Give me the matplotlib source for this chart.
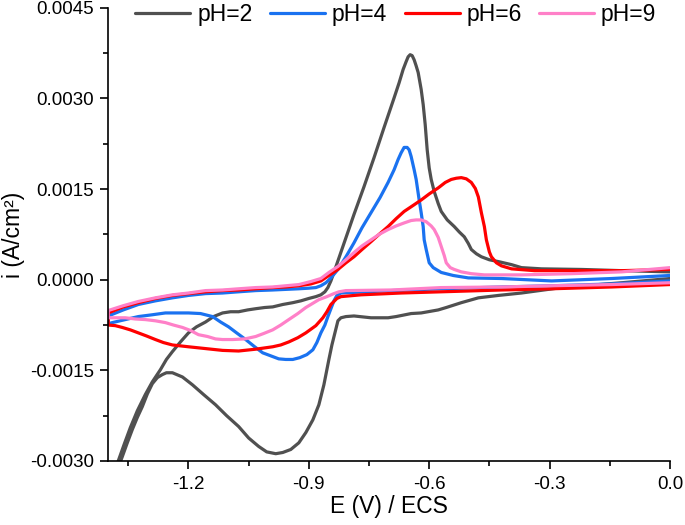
"""
Cyclic voltammograms at four pH values (current density vs potential).
Each curve is one loop: cathodic sweep 0.0 -> -1.4 V, then the return sweep.
"""

import matplotlib
matplotlib.use("Agg")
import matplotlib.pyplot as plt
from matplotlib.ticker import FixedLocator

plt.rcParams["font.family"] = ["Liberation Sans", "DejaVu Sans"]
plt.rcParams["axes.unicode_minus"] = False


# ----------------------------------------------------------------------
# Data (E in V vs ECS, i in A/cm2)
# ----------------------------------------------------------------------

labels = ["pH=2", "pH=4", "pH=6", "pH=9"]
colors = ["#505050", "#1a72f0", "#ff0000", "#ff80c8"]

# pH = 2 : cathodic sweep then return sweep
e_ph2 = [0.0, -0.12, -0.27, -0.37, -0.4275, -0.4775, -0.52, -0.5575, -0.5775,
         -0.62, -0.645, -0.6825, -0.7025, -0.745, -0.7875, -0.8075, -0.82,
         -0.8275, -0.835, -0.8425, -0.85, -0.8625, -0.875, -0.89, -0.9075,
         -0.925, -0.945, -0.965, -0.9825, -1.005, -1.025, -1.05, -1.075,
         -1.105, -1.1325, -1.1625, -1.19, -1.215, -1.24, -1.255, -1.265,
         -1.2775, -1.29, -1.3025, -1.315, -1.3275, -1.34, -1.3525, -1.365,
         -1.3825, -1.40,
         -1.40, -1.3875, -1.375, -1.36, -1.345, -1.3275, -1.3075, -1.29, -1.27,
         -1.255, -1.24, -1.22, -1.20, -1.18, -1.1575, -1.1375, -1.115, -1.095,
         -1.075, -1.0525, -1.0325, -1.01, -0.99, -0.965, -0.94, -0.92, -0.90,
         -0.8825, -0.87, -0.86, -0.8525, -0.845, -0.8375, -0.8125, -0.7875,
         -0.7625, -0.7375, -0.7125, -0.6875, -0.675, -0.665, -0.6575, -0.6525,
         -0.6475, -0.6425, -0.6375, -0.6325, -0.6275, -0.62, -0.615, -0.61,
         -0.605, -0.60, -0.595, -0.5875, -0.5775, -0.57, -0.555, -0.5375,
         -0.525, -0.5125, -0.5025, -0.495, -0.4825, -0.47, -0.45, -0.4275,
         -0.395, -0.37, -0.32, -0.22, -0.12, 0.0]
i_ph2 = [0.00002, -0.00005, -0.00013, -0.00022, -0.00026, -0.00030, -0.00038,
         -0.00046, -0.00050, -0.00055, -0.00056, -0.00061, -0.00063, -0.00063,
         -0.00060, -0.00061, -0.00063, -0.00068, -0.00088, -0.00108, -0.00132,
         -0.00174, -0.00207, -0.00232, -0.00253, -0.00270, -0.00281, -0.00286,
         -0.00288, -0.00285, -0.00276, -0.00262, -0.00243, -0.00225, -0.00207,
         -0.00190, -0.00174, -0.00161, -0.00154, -0.00154, -0.00157, -0.00162,
         -0.00172, -0.00189, -0.00210, -0.00228, -0.00248, -0.00270, -0.00293,
         -0.00324, -0.00356,
         -0.00348, -0.00324, -0.00300, -0.00272, -0.00245, -0.00217, -0.00190,
         -0.00169, -0.00149, -0.00132, -0.00119, -0.00103, -0.00088, -0.00078,
         -0.00070, -0.00061, -0.00055, -0.00053, -0.00053, -0.00050, -0.00048,
         -0.00046, -0.00045, -0.00041, -0.00038, -0.00035, -0.00031, -0.00028,
         -0.00025, -0.00020, -0.00013, -0.00002, 0.00012, 0.00060, 0.00108,
         0.00154, 0.00202, 0.00252, 0.00301, 0.00326, 0.00348, 0.00361,
         0.00369, 0.003725, 0.00371, 0.00364, 0.00354, 0.00343, 0.00315,
         0.00290, 0.00257, 0.00215, 0.00185, 0.00166, 0.00146, 0.00126,
         0.00113, 0.00099, 0.00088, 0.00079, 0.00071, 0.00060, 0.00050,
         0.00043, 0.00038, 0.00033, 0.00030, 0.00025, 0.00020, 0.00018,
         0.00017, 0.00015, 0.00013]

# pH = 4
e_ph4 = [0.0, -0.145, -0.295, -0.42, -0.57, -0.695, -0.82, -0.83, -0.8375,
         -0.845, -0.8525, -0.86, -0.87, -0.88, -0.89, -0.905, -0.9225, -0.94,
         -0.9575, -0.975, -0.995, -1.015, -1.035, -1.0575, -1.08, -1.10,
         -1.12, -1.14, -1.17, -1.20, -1.23, -1.2575, -1.29, -1.325, -1.3575,
         -1.39, -1.40,
         -1.40, -1.3625, -1.325, -1.2825, -1.24, -1.20, -1.1575, -1.115,
         -1.075, -1.0325, -0.99, -0.9575, -0.925, -0.90, -0.8825, -0.87,
         -0.8575, -0.845, -0.8275, -0.8075, -0.7875, -0.7675, -0.745, -0.7225,
         -0.7025, -0.6875, -0.6775, -0.67, -0.6625, -0.655, -0.65, -0.645,
         -0.6375, -0.6325, -0.625, -0.62, -0.615, -0.6125, -0.6075, -0.60,
         -0.59, -0.57, -0.54, -0.5025, -0.42, -0.295, -0.145, 0.0]
i_ph4 = [-0.00002, -0.00007, -0.00010, -0.00012, -0.00015, -0.00018, -0.00022,
         -0.00026, -0.00035, -0.00048, -0.00061, -0.00075, -0.00088, -0.00104,
         -0.00116, -0.00124, -0.00129, -0.00132, -0.00132, -0.00131, -0.00126,
         -0.00121, -0.00111, -0.00099, -0.00088, -0.00078, -0.00070, -0.00061,
         -0.00056, -0.00055, -0.00055, -0.00055, -0.00058, -0.00061, -0.00066,
         -0.00071, -0.00073,
         -0.00060, -0.00050, -0.00041, -0.00035, -0.00030, -0.00026, -0.00023,
         -0.00022, -0.00020, -0.00018, -0.00017, -0.00016, -0.00015, -0.00014,
         -0.00013, -0.00010, -0.00005, 0.00003, 0.00017, 0.00038, 0.00061,
         0.00086, 0.00111, 0.00136, 0.00161, 0.00182, 0.00199, 0.00210,
         0.00219, 0.00219, 0.00215, 0.00204, 0.00182, 0.00166, 0.00132,
         0.00111, 0.00088, 0.00066, 0.00050, 0.00028, 0.00020, 0.00012,
         0.00007, 0.00003, 0.00002, -0.00002, 0.00002, 0.00007]

# pH = 6
e_ph6 = [0.0, -0.145, -0.295, -0.42, -0.57, -0.67, -0.77, -0.82, -0.83,
         -0.8375, -0.845, -0.855, -0.865, -0.8825, -0.9075, -0.9275, -0.95,
         -0.97, -0.99, -1.0325, -1.075, -1.115, -1.1575, -1.20, -1.24,
         -1.2625, -1.2825, -1.305, -1.325, -1.345, -1.365, -1.3825, -1.40,
         -1.40, -1.3625, -1.325, -1.2825, -1.24, -1.20, -1.1575, -1.115,
         -1.075, -1.0325, -0.99, -0.9575, -0.925, -0.895, -0.87, -0.85,
         -0.8275, -0.8075, -0.7875, -0.7675, -0.745, -0.725, -0.7025, -0.6825,
         -0.6625, -0.64, -0.62, -0.60, -0.5775, -0.56, -0.545, -0.5325, -0.52,
         -0.5075, -0.495, -0.485, -0.4775, -0.47, -0.4625, -0.4575, -0.45,
         -0.445, -0.4325, -0.42, -0.395, -0.3375, -0.245, -0.12, 0.0]
i_ph6 = [-0.00008, -0.00012, -0.00015, -0.00017, -0.00020, -0.00022, -0.00025,
         -0.00028, -0.00031, -0.00036, -0.00041, -0.00053, -0.00063, -0.00076,
         -0.00088, -0.00096, -0.00103, -0.00108, -0.00111, -0.00115, -0.00118,
         -0.00117, -0.00114, -0.00111, -0.00108, -0.00104, -0.00099, -0.00093,
         -0.00088, -0.00083, -0.00079, -0.00076, -0.00075,
         -0.00055, -0.00045, -0.00038, -0.00031, -0.00026, -0.00023, -0.00020,
         -0.00018, -0.00017, -0.00015, -0.00013, -0.00012, -0.00010, -0.00007,
         -0.00002, 0.00007, 0.00017, 0.00028, 0.00038, 0.00050, 0.00063,
         0.00075, 0.00088, 0.00101, 0.00113, 0.00123, 0.00132, 0.00142,
         0.00152, 0.00161, 0.00166, 0.00168, 0.00169, 0.00167, 0.00161,
         0.00151, 0.00137, 0.00111, 0.00088, 0.00066, 0.00046, 0.00038,
         0.00028, 0.00023, 0.00018, 0.00015, 0.00015, 0.00015, 0.00017]

# pH = 9
e_ph9 = [0.0, -0.145, -0.295, -0.42, -0.57, -0.695, -0.8075, -0.825, -0.8375,
         -0.855, -0.875, -0.8925, -0.9075, -0.9275, -0.95, -0.97, -0.99,
         -1.0125, -1.0325, -1.06, -1.09, -1.115, -1.1325, -1.1525, -1.175,
         -1.195, -1.215, -1.2375, -1.2575, -1.2825, -1.3075, -1.3325, -1.3575,
         -1.40,
         -1.40, -1.3625, -1.325, -1.2825, -1.24, -1.20, -1.1575, -1.115,
         -1.075, -1.0325, -0.99, -0.9575, -0.925, -0.895, -0.87, -0.85,
         -0.8275, -0.8075, -0.7875, -0.7675, -0.745, -0.725, -0.7025, -0.6825,
         -0.6625, -0.645, -0.6325, -0.62, -0.6075, -0.595, -0.5875, -0.5775,
         -0.57, -0.5625, -0.5575, -0.5475, -0.5375, -0.52, -0.495, -0.4625,
         -0.37, -0.245, -0.12, 0.0]
i_ph9 = [-0.00005, -0.00008, -0.00010, -0.00012, -0.00013, -0.00017, -0.00018,
         -0.00020, -0.00023, -0.00028, -0.00033, -0.00040, -0.00046, -0.00056,
         -0.00066, -0.00075, -0.00083, -0.00089, -0.00094, -0.00098, -0.00099,
         -0.00099, -0.00098, -0.00094, -0.00091, -0.00084, -0.00079, -0.00075,
         -0.00071, -0.00068, -0.00066, -0.00065, -0.00063, -0.00063,
         -0.00051, -0.00043, -0.00036, -0.00030, -0.00025, -0.00022, -0.00018,
         -0.00017, -0.00015, -0.00013, -0.00012, -0.00010, -0.00008, -0.00003,
         0.00002, 0.00012, 0.00022, 0.00033, 0.00045, 0.00056, 0.00066,
         0.00075, 0.00083, 0.00089, 0.00094, 0.00098, 0.00099, 0.00099,
         0.00096, 0.00089, 0.00083, 0.00070, 0.00055, 0.00040, 0.00028,
         0.00020, 0.00017, 0.00013, 0.00010, 0.00008, 0.00008, 0.00010,
         0.00013, 0.00020]

x_ticks = [-1.2, -0.9, -0.6, -0.3, 0.0]
x_tick_labels = ["-1.2", "-0.9", "-0.6", "-0.3", "0.0"]
x_minor = [-1.35, -1.05, -0.75, -0.45, -0.15]
y_ticks = [-0.0030, -0.0015, 0.0, 0.0015, 0.0030, 0.0045]
y_tick_labels = ["-0.0030", "-0.0015", "0.0000", "0.0015", "0.0030", "0.0045"]
y_minor = [-0.00225, -0.00075, 0.00075, 0.00225, 0.00375]


# ----------------------------------------------------------------------
# Plot
# ----------------------------------------------------------------------

fig = plt.figure(figsize=(6.85, 5.25), dpi=100)
ax = fig.add_axes([0.158, 0.122, 0.820, 0.863])

series = [(e_ph2, i_ph2), (e_ph4, i_ph4), (e_ph6, i_ph6), (e_ph9, i_ph9)]
for (e, i), lab, c in zip(series, labels, colors):
    ax.plot(e, i, color=c, lw=2.3, label=lab,
            solid_joinstyle="round", solid_capstyle="round")

ax.set_xlim(-1.4, 0.0)
ax.set_ylim(-0.0030, 0.0045)

ax.spines["top"].set_visible(False)
ax.spines["right"].set_visible(False)
for s in ("left", "bottom"):
    ax.spines[s].set_linewidth(1.2)

ax.xaxis.set_major_locator(FixedLocator(x_ticks))
ax.xaxis.set_minor_locator(FixedLocator(x_minor))
ax.set_xticklabels(x_tick_labels)
ax.yaxis.set_major_locator(FixedLocator(y_ticks))
ax.yaxis.set_minor_locator(FixedLocator(y_minor))
ax.set_yticklabels(y_tick_labels)

ax.tick_params(which="major", direction="out", length=5.5, width=1.2,
               labelsize=13.5, pad=5)
ax.tick_params(which="minor", direction="out", length=3.5, width=1.2)

ax.set_xlabel("E (V) / ECS", fontsize=16.5, labelpad=2)
ax.set_ylabel("i (A/cm²)", fontsize=16.5)
ax.yaxis.set_label_coords(-0.148, 0.5)

fig.legend(loc="upper center", bbox_to_anchor=(0.578, 1.012), ncol=4,
           frameon=False, fontsize=16.5, handlelength=2.4,
           handletextpad=0.3, columnspacing=0.76, borderaxespad=0)

fig.savefig("out.png", dpi=100)
